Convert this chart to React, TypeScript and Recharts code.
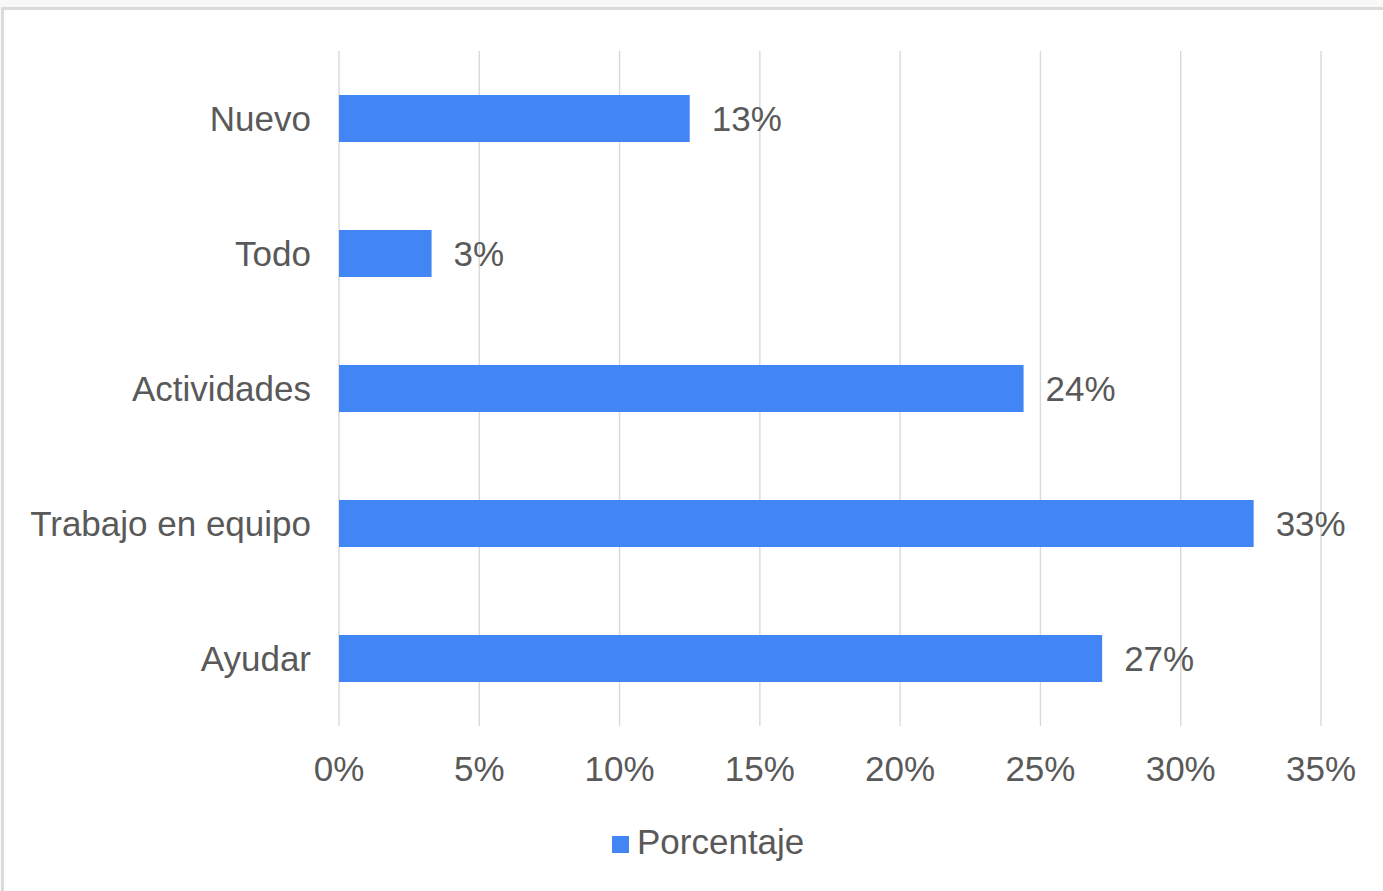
import React from 'react';
import { BarChart, Bar, XAxis, YAxis, CartesianGrid, Legend, LabelList } from 'recharts';

const categories = ['Nuevo', 'Todo', 'Actividades', 'Trabajo en equipo', 'Ayudar'];
const porcentaje = [12.5, 3.3, 24.4, 32.6, 27.2];
const xTicks = [0, 5, 10, 15, 20, 25, 30, 35];

const data = categories.map((name, i) => ({ name, Porcentaje: porcentaje[i] }));

const FONT = '"Liberation Sans", Arial, sans-serif';
const TEXT = '#595959';
const BLUE = '#4285f4';
const FS = 35;

export default function App() {
    return (
        <div style={{ position: 'fixed', left: 0, top: 0, width: 1383, height: 891, background: '#f8f8f8', overflow: 'hidden' }}>
            <div style={{ position: 'absolute', left: 1, top: 7, width: 1400, height: 900, background: '#fff', borderTop: '3px solid #dadada', borderLeft: '3px solid #dadada' }} />
            <div style={{ position: 'absolute', left: 0, top: 0 }}>
                <BarChart
                    width={1383}
                    height={891}
                    data={data}
                    layout="vertical"
                    margin={{ top: 51, right: 62, left: 0, bottom: 0 }}
                    barSize={47}
                    style={{ fontFamily: FONT }}
                >
                    <CartesianGrid horizontal={false} stroke="#d9d9d9" strokeWidth={1.4} />
                    <XAxis
                        type="number"
                        domain={[0, 35]}
                        ticks={xTicks}
                        tickFormatter={(v) => `${v}%`}
                        axisLine={false}
                        tickLine={false}
                        tickMargin={24}
                        height={165}
                        tick={{ fill: TEXT, fontSize: FS, fontFamily: FONT }}
                        interval={0}
                    />
                    <YAxis
                        type="category"
                        dataKey="name"
                        width={339}
                        axisLine={false}
                        tickLine={false}
                        tickMargin={22}
                        tick={{ fill: TEXT, fontSize: FS, fontFamily: FONT }}
                        interval={0}
                    />
                    <Legend
                        verticalAlign="middle"
                        align="center"
                        iconType="square"
                        iconSize={17}
                        wrapperStyle={{ top: 822, left: 612, width: 'auto', fontSize: FS, fontFamily: FONT, lineHeight: '40px' }}
                        formatter={(value) => <span style={{ color: TEXT, marginLeft: 4 }}>{value}</span>}
                    />
                    <Bar dataKey="Porcentaje" fill={BLUE} isAnimationActive={false}>
                        <LabelList
                            dataKey="Porcentaje"
                            position="right"
                            offset={22}
                            formatter={(v: any) => `${Math.round(Number(v))}%`}
                            style={{ fill: TEXT, fontSize: FS, fontFamily: FONT }}
                        />
                    </Bar>
                </BarChart>
            </div>
        </div>
    );
}
